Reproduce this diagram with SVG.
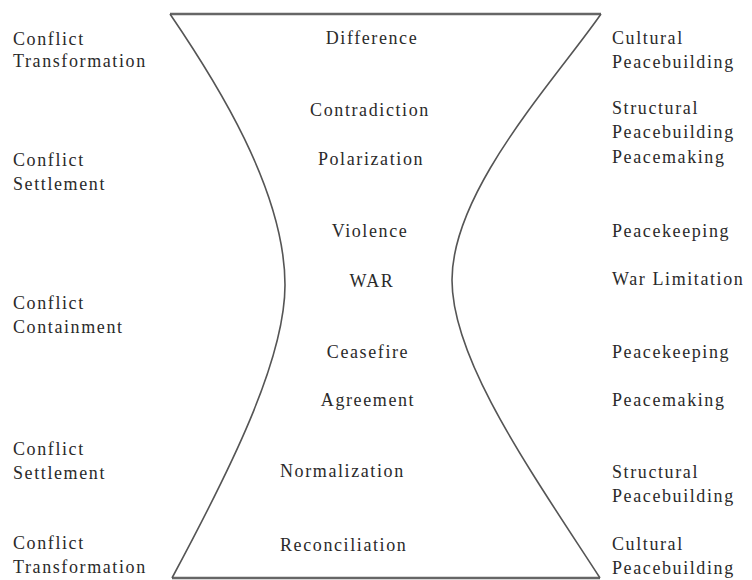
<svg xmlns="http://www.w3.org/2000/svg" width="752" height="580" viewBox="0 0 752 580">
<style>
text{font-family:"Liberation Serif","Times New Roman",serif;font-size:18px;letter-spacing:1.6px;fill:#2a2a2a}
.c{text-anchor:middle}
.ln{fill:none;stroke:#555;stroke-width:1.6}
.bar{fill:none;stroke:#666;stroke-width:2.6}
</style>
<rect width="752" height="580" fill="#fff"/>
<g id="connectors">
<path class="bar" d="M170,14 L601,14"/>
<path class="bar" d="M172,578 L600,578"/>
<path class="ln" d="M170,14 C215,80 285,190 285,285 C285,360 230,470 172,578"/>
<path class="ln" d="M601,14 C555,80 452,190 452,280 C452,360 530,470 600,578"/>
</g>
<g id="left">
<g id="l1"><text x="13" y="45">Conflict</text><text x="13" y="67">Transformation</text></g>
<g id="l2"><text x="13" y="166">Conflict</text><text x="13" y="190">Settlement</text></g>
<g id="l3"><text x="13" y="309">Conflict</text><text x="13" y="333">Containment</text></g>
<g id="l4"><text x="13" y="455">Conflict</text><text x="13" y="479">Settlement</text></g>
<g id="l5"><text x="13" y="549">Conflict</text><text x="13" y="573">Transformation</text></g>
</g>
<g id="center">
<g id="c1"><text class="c" x="372" y="44">Difference</text></g>
<g id="c2"><text class="c" x="370" y="116">Contradiction</text></g>
<g id="c3"><text class="c" x="371" y="165">Polarization</text></g>
<g id="c4"><text class="c" x="370" y="237">Violence</text></g>
<g id="c5"><text class="c" x="372" y="287">WAR</text></g>
<g id="c6"><text class="c" x="368" y="358">Ceasefire</text></g>
<g id="c7"><text class="c" x="368" y="406">Agreement</text></g>
<g id="c8"><text x="280" y="477">Normalization</text></g>
<g id="c9"><text x="280" y="551">Reconciliation</text></g>
</g>
<g id="right">
<g id="r1"><text x="612" y="44">Cultural</text><text x="612" y="68">Peacebuilding</text></g>
<g id="r2"><text x="612" y="114">Structural</text><text x="612" y="138">Peacebuilding</text></g>
<g id="r3"><text x="612" y="163">Peacemaking</text></g>
<g id="r4"><text x="612" y="237">Peacekeeping</text></g>
<g id="r5"><text x="612" y="285">War Limitation</text></g>
<g id="r6"><text x="612" y="358">Peacekeeping</text></g>
<g id="r7"><text x="612" y="406">Peacemaking</text></g>
<g id="r8"><text x="612" y="478">Structural</text><text x="612" y="502">Peacebuilding</text></g>
<g id="r9"><text x="612" y="550">Cultural</text><text x="612" y="574">Peacebuilding</text></g>
</g>
</svg>
